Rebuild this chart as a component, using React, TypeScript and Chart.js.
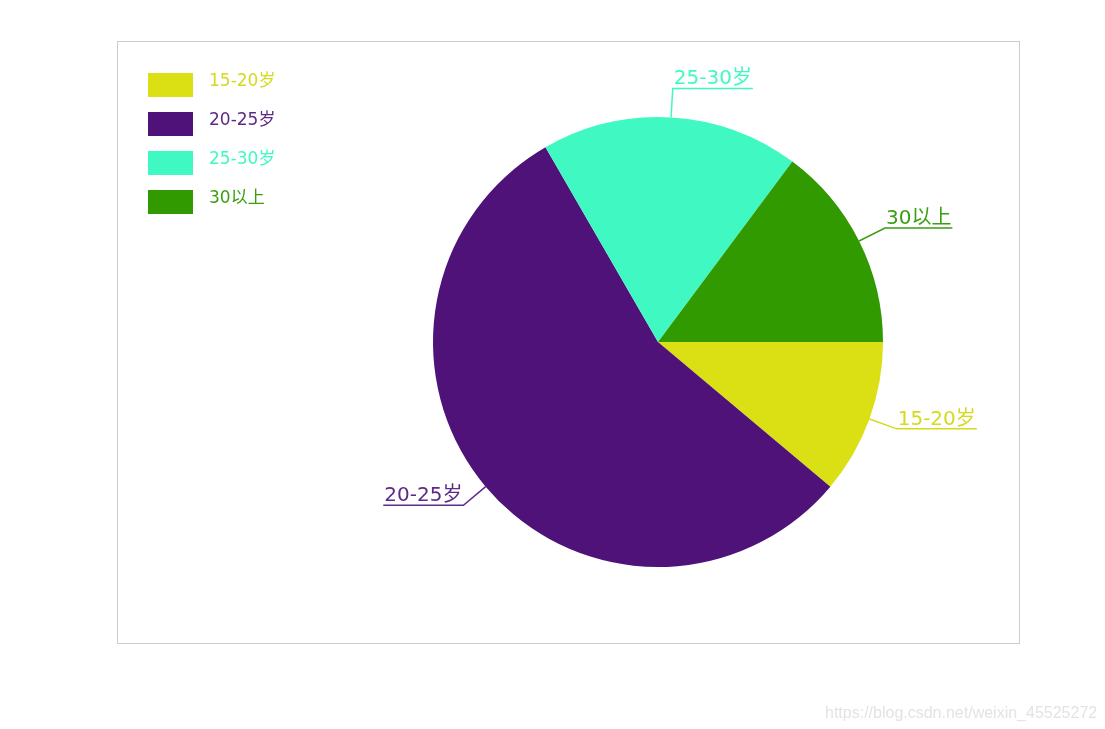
import React, { useEffect, useRef } from "react";
import { Chart, registerables } from "chart.js";

Chart.register(...registerables);

const categories = ["15-20岁", "20-25岁", "25-30岁", "30以上"];
const values = [15, 75, 25, 20];
const colors = ["#dbe015", "#4e1278", "#40f9c2", "#319a00"];
const textColors = ["#d6da1e", "#5e2a88", "#40f9c2", "#3a9f10"];
const watermark = "https://blog.csdn.net/weixin_45525272";

const FONT = '"DejaVu Sans", "Noto Sans CJK SC", sans-serif';

const decorPlugin = {
  id: "decor",
  beforeDraw(chart: any) {
    const ctx = chart.ctx;
    ctx.save();
    ctx.fillStyle = "#ffffff";
    ctx.fillRect(0, 0, chart.width, chart.height);
    ctx.strokeStyle = "#cccccc";
    ctx.lineWidth = 1;
    ctx.strokeRect(117.5, 41.5, 902, 602);
    ctx.restore();
  },
  afterDraw(chart: any) {
    const ctx = chart.ctx;
    ctx.save();
    // legend
    ctx.font = `17px ${FONT}`;
    ctx.textBaseline = "alphabetic";
    ctx.textAlign = "left";
    categories.forEach((c, i) => {
      const y = 73 + i * 39;
      ctx.fillStyle = colors[i];
      ctx.fillRect(148, y, 45, 24);
      ctx.fillStyle = textColors[i];
      ctx.fillText(c, 209, y + 13);
    });
    // labels
    const meta = chart.getDatasetMeta(0);
    ctx.font = `20px ${FONT}`;
    meta.data.forEach((arc: any, i: number) => {
      const mid = (arc.startAngle + arc.endAngle) / 2;
      const r = arc.outerRadius;
      const x0 = arc.x + Math.cos(mid) * r;
      const y0 = arc.y + Math.sin(mid) * r;
      const x1 = arc.x + Math.cos(mid) * (r + 29);
      const y1 = arc.y + Math.sin(mid) * (r + 29);
      const right = Math.cos(mid) >= 0;
      const text = categories[i];
      const w = ctx.measureText(text).width;
      const x2 = right ? x1 + w + 2 : x1 - w - 2;
      ctx.strokeStyle = textColors[i];
      ctx.lineWidth = 1.5;
      ctx.beginPath();
      ctx.moveTo(x0, y0);
      ctx.lineTo(x1, y1);
      ctx.lineTo(x2, y1);
      ctx.stroke();
      ctx.fillStyle = textColors[i];
      ctx.textAlign = right ? "left" : "right";
      ctx.fillText(text, right ? x1 + 1 : x1 - 1, y1 - 4);
    });
    // watermark
    ctx.font = '16px "Liberation Sans", Arial, sans-serif';
    ctx.fillStyle = "#e3e3e3";
    ctx.textAlign = "left";
    ctx.fillText(watermark, 825, 718);
    ctx.restore();
  },
};

export default function App() {
  const ref = useRef<HTMLCanvasElement>(null);
  useEffect(() => {
    if (!ref.current) return;
    const chart = new Chart(ref.current, {
      type: "pie",
      data: {
        labels: categories,
        datasets: [
          {
            data: values,
            backgroundColor: colors,
            borderWidth: 0,
            hoverOffset: 0,
          },
        ],
      },
      options: {
        animation: false,
        responsive: false,
        rotation: 90,
        radius: 225,
        layout: { padding: { left: 433, right: 222, top: 117, bottom: 162 } },
        plugins: {
          legend: { display: false },
          tooltip: { enabled: false },
        },
        events: [],
      },
      plugins: [decorPlugin],
    });
    return () => chart.destroy();
  }, []);
  return (
    <div style={{ position: "absolute", left: 0, top: 0, width: 1105, height: 729 }}>
      <canvas ref={ref} width={1105} height={729} style={{ width: 1105, height: 729, display: "block" }} />
    </div>
  );
}
